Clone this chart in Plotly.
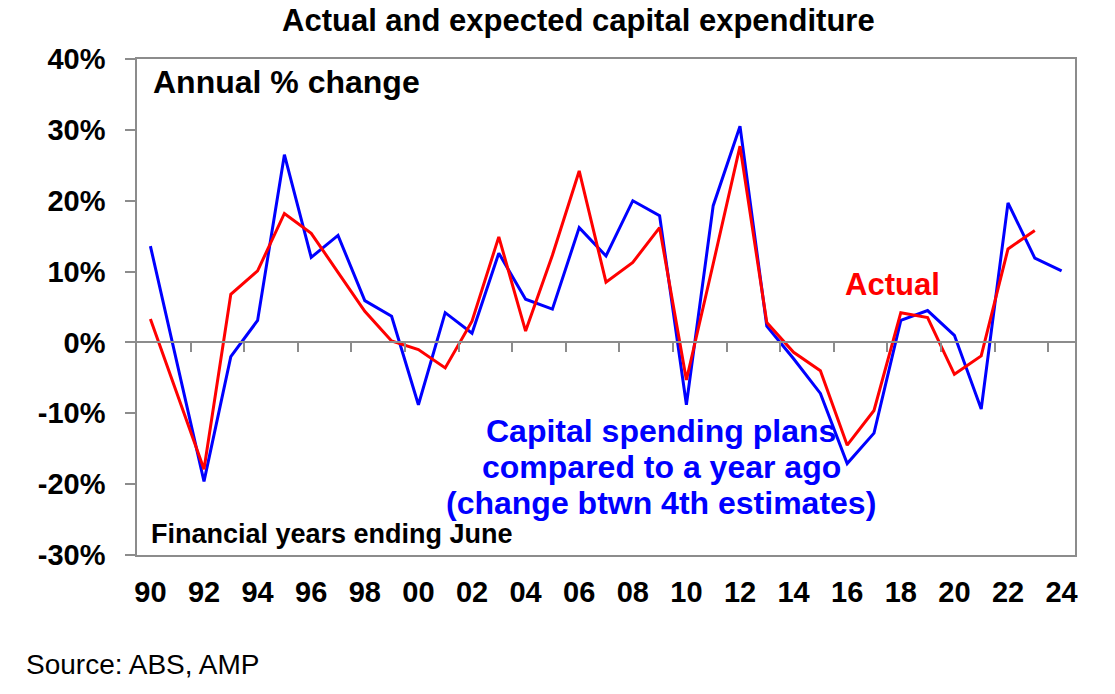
import plotly.graph_objects as go

# financial years ending June
years = list(range(1990, 2025))

# actual capex, annual % change
actual = [3.3, None, -17.9, 6.8, 10.1, 18.2, 15.4, 9.9, 4.4, 0.2,
          -1.0, -3.6, 3.0, 14.9, 1.6, 12.3, 24.2, 8.5, 11.3, 16.2,
          -5.3, 11.1, 27.7, 2.8, -1.4, -4.0, -14.5, -9.6, 4.2, 3.5,
          -4.5, -1.9, 13.2, 15.8, None]

# capital spending plans vs a year ago (4th estimates)
plans = [13.6, None, -19.6, -2.0, 3.1, 26.5, 12.0, 15.1, 5.9, 3.7,
         -8.8, 4.2, 1.3, 12.6, 6.1, 4.7, 16.2, 12.2, 20.0, 17.9,
         -8.8, 19.3, 30.5, 2.3, -2.3, -7.2, -17.1, -12.8, 3.1, 4.5,
         1.0, -9.4, 19.7, 11.9, 10.1]

tick_years = years[::2]
tick_labels = ["90", "92", "94", "96", "98", "00", "02", "04", "06", "08",
               "10", "12", "14", "16", "18", "20", "22", "24"]

y_ticks = [-30, -20, -10, 0, 10, 20, 30, 40]
y_labels = ["-30%", "-20%", "-10%", "0%", "10%", "20%", "30%", "40%"]

W, H = 1115, 694
L, R, T, B = 137, 40, 59, 139
FONT = "Arial, Liberation Sans, sans-serif"
GREY = "#8c8c8c"
YMIN, YMAX = -30, 40


def px(x):
    return (x - L) / (W - L - R)


def py(y):
    return (H - B - y) / (H - T - B)


fig = go.Figure()
fig.add_trace(go.Scatter(x=years, y=plans, mode="lines", connectgaps=True,
                         line=dict(color="#0000ff", width=3), name="Plans"))
fig.add_trace(go.Scatter(x=years, y=actual, mode="lines", connectgaps=True,
                         xaxis="x2",
                         line=dict(color="#ff0000", width=3), name="Actual"))

def note(text, x, y, size, color="black", weight="bold", xanchor="left"):
    fig.add_annotation(text=text, x=px(x), y=py(y), xref="paper", yref="paper",
                       xanchor=xanchor, yanchor="middle", showarrow=False,
                       font=dict(family=FONT, size=size, color=color, weight=weight))

note("Actual and expected capital expenditure", 578, 21, 31, xanchor="center")
note("Annual % change", 151, 82, 32)
note("Financial years ending June", 149, 534, 27)
note("Actual", 892, 284, 31, color="#ff0000", xanchor="center")
note("Capital spending plans", 661, 431, 32, color="#0000ff", xanchor="center")
note("compared to a year ago", 661, 467, 32, color="#0000ff", xanchor="center")
note("(change btwn 4th estimates)", 661, 503, 32, color="#0000ff", xanchor="center")
note("Source: ABS, AMP", 24, 664, 28, weight="normal")

fig.update_layout(
    width=W, height=H, autosize=False,
    margin=dict(l=L, r=R, t=T, b=B),
    paper_bgcolor="white", plot_bgcolor="white",
    showlegend=False,
    font=dict(family=FONT, color="black"),
    xaxis=dict(range=[1989.5, 2024.5], tickvals=tick_years, ticktext=tick_labels,
               ticks="", showgrid=False, zeroline=False,
               showline=True, mirror=True, linecolor=GREY, linewidth=1.5,
               ticklabelstandoff=10,
               tickfont=dict(family=FONT, size=29, weight="bold")),
    xaxis2=dict(range=[1989.5, 2024.5], overlaying="x", anchor="free",
                position=(0 - YMIN) / (YMAX - YMIN), side="bottom",
                tickvals=[y + 1.5 for y in tick_years[:-1]],
                ticks="outside", ticklen=9, tickcolor=GREY, tickwidth=1.5,
                showticklabels=False, showgrid=False, zeroline=False,
                showline=True, linecolor=GREY, linewidth=1.5),
    yaxis=dict(range=[YMIN, YMAX], tickvals=y_ticks, ticktext=y_labels,
               ticks="outside", ticklen=10, tickcolor=GREY, tickwidth=1.5,
               showgrid=False, zeroline=False,
               showline=True, mirror=True, linecolor=GREY, linewidth=1.5,
               ticklabelstandoff=14,
               tickfont=dict(family=FONT, size=29, weight="bold")),
)

# drop the default 8px page margin so the figure sits in the corner
fig.write_html("out.html", config={"displayModeBar": False},
               post_script="document.body.style.margin = '0';")
